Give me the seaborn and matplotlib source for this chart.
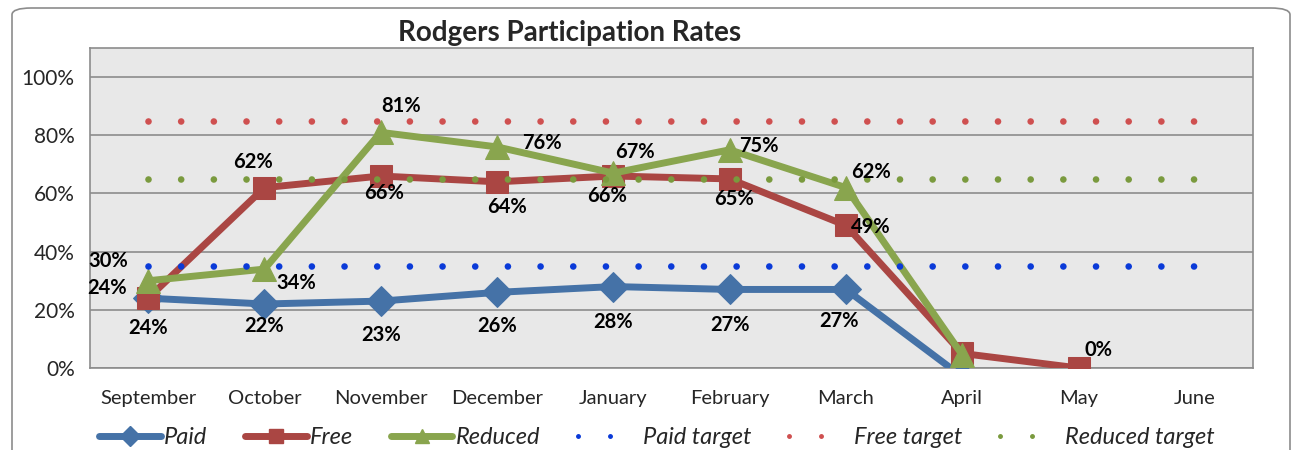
import numpy as np
import pandas as pd
import matplotlib
matplotlib.use("Agg")
import matplotlib.pyplot as plt
import seaborn as sns
from matplotlib.lines import Line2D
from matplotlib.patches import FancyBboxPatch

# chart data
months = ["September", "October", "November", "December", "January",
          "February", "March", "April", "May", "June"]
paid = [0.24, 0.22, 0.23, 0.26, 0.28, 0.27, 0.27, -0.03, np.nan, np.nan]
free = [0.24, 0.62, 0.66, 0.64, 0.66, 0.65, 0.49, 0.05, 0.00, np.nan]
reduced = [0.30, 0.34, 0.81, 0.76, 0.67, 0.75, 0.62, 0.045, np.nan, np.nan]
paid_target = 0.35
free_target = 0.85
reduced_target = 0.65
# which points carry a label (April values are not labelled)
paid_labelled = [True, True, True, True, True, True, True, False, False, False]
free_labelled = [True, True, True, True, True, True, True, False, True, False]
reduced_labelled = [True, True, True, True, True, True, True, False, False, False]

# label offsets in pixels (style only)
paid_off = [(0, -30), (0, -22), (0, -34), (0, -34), (0, -35), (0, -36), (-7, -32), (0, 0), (0, 0), (0, 0)]
free_off = [(-41, 10), (-11, 26), (3, -17), (10, -25), (-6, -20), (4, -20), (25, -2), (0, 0), (20, 18), (0, 0)]
red_off = [(-40, 20), (32, -14), (20, 26), (45, 4), (22, 21), (29, 4), (25, 16), (0, 0), (0, 0), (0, 0)]

sns.set_style("white")
plt.rcParams["font.family"] = ["Lato", "DejaVu Sans"]

x = np.arange(len(months))
df = pd.DataFrame({"pos": x, "Paid": paid, "Free": free, "Reduced": reduced,
                   "Paid target": paid_target, "Free target": free_target,
                   "Reduced target": reduced_target})

fig = plt.figure(figsize=(12.96, 4.5), dpi=100)
fig.patches.append(FancyBboxPatch((12 / 1296, -20 / 450), 1278 / 1296, 462 / 450,
                                  boxstyle="round,pad=0,rounding_size=0.015",
                                  transform=fig.transFigure, facecolor="white",
                                  edgecolor="#8c8c8c", linewidth=1.2, zorder=-10))
ax = fig.add_axes([90 / 1296, 1 - 368 / 450, 1163 / 1296, 320 / 450])
ax.set_facecolor("#e8e8e8")

series = [("Paid", "#4572a7", "D", 15), ("Free", "#aa4643", "s", 16), ("Reduced", "#89a54e", "^", 17)]
for name, col, mk, ms in series:
    sns.lineplot(data=df, x="pos", y=name, ax=ax, color=col, linewidth=5,
                 marker=mk, markersize=ms, markeredgecolor=col, markerfacecolor=col,
                 sort=False, estimator=None, zorder=3, clip_on=True)

targets = [("Paid target", "#0a3ad8"), ("Free target", "#cf5050"), ("Reduced target", "#7a9a3e")]
for name, col in targets:
    ln = ax.plot(df["pos"], df[name], color=col, linewidth=4.8, zorder=4)[0]
    ln.set_dashes((0.001, 4.9))
    ln.set_dash_capstyle("round")

# data labels
for vals, flags, offs in [(paid, paid_labelled, paid_off), (free, free_labelled, free_off),
                          (reduced, reduced_labelled, red_off)]:
    for i, v in enumerate(vals):
        if flags[i]:
            ax.annotate(f"{v * 100:.0f}%", (x[i], v), xytext=offs[i], textcoords="offset pixels",
                        ha="center", va="center", fontsize=14.5, fontweight="bold", color="black",
                        zorder=6)

ax.set_xlim(-0.5, len(months) - 0.5)
ax.set_ylim(0, 1.1)
ax.set_yticks(np.arange(0, 1.01, 0.2))
ax.set_yticklabels([f"{t * 100:.0f}%" for t in np.arange(0, 1.01, 0.2)], fontsize=15)
ax.set_xticks(x)
ax.set_xticklabels(months, fontsize=14.5)
ax.set_xticks(np.arange(-0.5, len(months), 1), minor=True)
ax.tick_params(axis="x", which="major", length=0, pad=16)
ax.tick_params(axis="x", which="minor", length=7, width=1.2, color="#8c8c8c", direction="out")
ax.tick_params(axis="y", length=7, width=1.2, color="#8c8c8c", direction="out", pad=4)
ax.grid(axis="y", color="#8c8c8c", linewidth=1.2)
ax.set_axisbelow(True)
for sp in ax.spines.values():
    sp.set_color("#8c8c8c")
    sp.set_linewidth(1.2)
ax.set_xlabel("")
ax.set_ylabel("")

fig.text(570 / 1296, 1 - 33 / 450, "Rodgers Participation Rates", ha="center", va="center",
         fontsize=20, fontweight="bold")

handles = [Line2D([], [], color=c, linewidth=5, marker=m, markersize=10, solid_capstyle="round")
           for _, c, m, _ in series]
for name, col in targets:
    h = Line2D([], [], color=col, linewidth=3.6, dash_capstyle="round")
    h.set_dashes((0.001, 6.4))
    handles.append(h)
labels = [s[0] for s in series] + [t[0] for t in targets]
leg = fig.legend(handles, labels, loc="center", bbox_to_anchor=(657 / 1296, 1 - 438 / 450), ncol=6,
                 frameon=False, handlelength=2.6, handletextpad=0.15, columnspacing=1.6,
                 prop={"style": "italic", "size": 17})

fig.savefig("out.png", dpi=100)
